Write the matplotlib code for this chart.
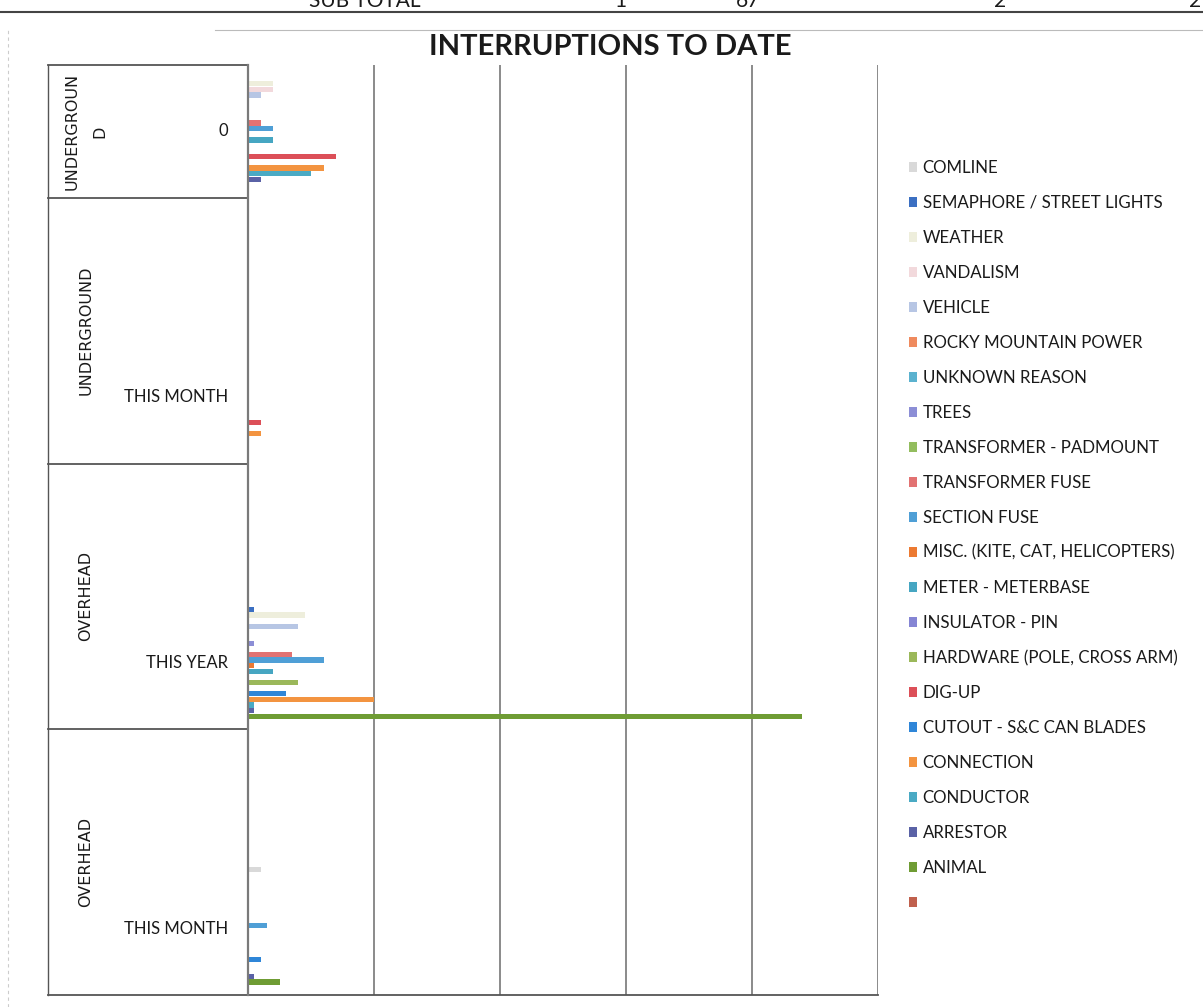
import matplotlib
matplotlib.use("Agg")
import matplotlib.pyplot as plt
import matplotlib.transforms as mtransforms
from matplotlib.patches import Patch

plt.rcParams['font.family'] = ['Lato', 'DejaVu Sans']

# series, listed top bar first (same order as the legend)
causes = ["COMLINE", "SEMAPHORE / STREET LIGHTS", "WEATHER", "VANDALISM", "VEHICLE",
          "ROCKY MOUNTAIN POWER", "UNKNOWN REASON", "TREES", "TRANSFORMER - PADMOUNT",
          "TRANSFORMER FUSE", "SECTION FUSE", "MISC. (KITE, CAT, HELICOPTERS)",
          "METER - METERBASE", "INSULATOR - PIN", "HARDWARE (POLE, CROSS ARM)", "DIG-UP",
          "CUTOUT - S&C CAN BLADES", "CONNECTION", "CONDUCTOR", "ARRESTOR", "ANIMAL", ""]
colors = ["#d9d9d9", "#3b6fc2", "#eeeedc", "#f2d9dc", "#b7c6e4",
          "#ef8a5e", "#5bb2cf", "#8c8ed6", "#93bd5e",
          "#e27272", "#4f9fd6", "#ec7a32",
          "#46a6c2", "#8585d4", "#9bb85a", "#dc4f58",
          "#2f86d8", "#f39440", "#4aaac4", "#5a62a6", "#6f9c34", "#c0604d"]

# interruption counts per cause
oh_this_month = [2, 0, 0, 0, 0, 0, 0, 0, 0, 0, 3, 0, 0, 0, 0, 0, 2, 0, 0, 1, 5, 0]
oh_this_year = [0, 1, 9, 0, 8, 0, 0, 1, 0, 7, 12, 1, 4, 0, 8, 0, 6, 20, 1, 1, 88, 0]
ug_this_month = [0, 0, 0, 0, 0, 0, 0, 0, 0, 0, 0, 0, 0, 0, 0, 2, 0, 2, 0, 0, 0, 0]
ug_zero = [0, 0, 4, 4, 2, 0, 0, 0, 0, 2, 4, 0, 4, 0, 0, 14, 0, 12, 10, 2, 0, 0]

# category rows, bottom to top (blank rows in between have no data)
row_labels = ["THIS MONTH", "", "THIS YEAR", "", "THIS MONTH", "", "0"]
data_rows = [0, 2, 4, 6]
data_values = [oh_this_month, oh_this_year, ug_this_month, ug_zero]
group_labels = ["OVERHEAD", "OVERHEAD", "UNDERGROUND", "UNDERGROUN\nD"]
group_rows = [(0, 1), (2, 3), (4, 5), (6, 6)]

fig = plt.figure(figsize=(12.03, 10.07), dpi=100)
ax = fig.add_axes([248 / 1203, 12 / 1007, 630 / 1203, 930 / 1007])

n = len(causes)
slot = 0.0423
for i, name in enumerate(causes):
    offset = (n / 2 - 0.5 - i) * slot
    vals = [v[i] for v in data_values]
    ax.barh([r + offset for r in data_rows], vals, height=slot * 0.95,
            color=colors[i], label=name, linewidth=0)

ax.set_xlim(0, 100)
ax.set_ylim(-0.5, 6.5)
ax.set_xticks([20, 40, 60, 80, 100])
ax.grid(axis='x', color='#8a8a8a', linewidth=1.4)
ax.set_axisbelow(True)
ax.tick_params(left=False, bottom=False, labelleft=False, labelbottom=False)
for s in ['top', 'right', 'bottom']:
    ax.spines[s].set_visible(False)
ax.spines['left'].set_color('#7a7a7a')
ax.spines['left'].set_linewidth(1.6)

# category label boxes on the left
trans = mtransforms.blended_transform_factory(ax.transAxes, ax.transData)
box_left = (48 - 248) / 630
for y in [-0.5, 1.5, 3.5, 5.5, 6.5]:
    ax.plot([box_left, 0], [y, y], color='#555555', lw=1.3, transform=trans, clip_on=False)
ax.plot([box_left, box_left], [-0.5, 6.5], color='#555555', lw=1.0, transform=trans, clip_on=False)
ax.plot([0, 1], [-0.5, -0.5], color='#555555', lw=1.3, transform=trans, clip_on=False)

for r, lab in enumerate(row_labels):
    ax.text(-20 / 630, r, lab, transform=trans, ha='right', va='center',
            fontsize=12, color='#1a1a1a')
for lab, (a, b) in zip(group_labels, group_rows):
    ax.text((86 - 248) / 630, (a + b) / 2, lab, transform=trans, rotation=90,
            ha='center', va='center', fontsize=11.5, color='#1a1a1a',
            family=['Liberation Sans Narrow', 'DejaVu Sans'], linespacing=2.0)

fig.text(610 / 1203, 1 - 47 / 1007, "INTERRUPTIONS TO DATE", ha='center', va='center',
         fontsize=21, fontweight='bold', color='#1a1a1a')

handles = [Patch(facecolor=c, edgecolor='none') for c in colors]
fig.legend(handles, causes, loc='upper left', bbox_to_anchor=(909 / 1203, 1 - 160 / 1007),
           frameon=False, fontsize=12.2, handlelength=0.5, handleheight=0.5,
           handletextpad=0.3, labelspacing=1.12, borderaxespad=0, borderpad=0,
           labelcolor='#1a1a1a')

# table row cut off at the top of the page
fig.add_artist(plt.Line2D([0, 1], [1 - 12 / 1007] * 2, color='#444444', lw=1.5))
fig.add_artist(plt.Line2D([215 / 1203, 1], [1 - 30 / 1007] * 2, color='#bbbbbb', lw=0.8))
fig.add_artist(plt.Line2D([8 / 1203] * 2, [0, 1 - 30 / 1007], color='#cccccc', lw=0.8, ls=(0, (3, 3))))
for x, t in [(365, "SUB TOTAL"), (620, "1"), (748, "67"), (1000, "2"), (1195, "2")]:
    fig.text(x / 1203, 1 - 1 / 1007, t, ha='center', va='center', fontsize=15, color='#1a1a1a')

fig.savefig("out.png", dpi=100)
